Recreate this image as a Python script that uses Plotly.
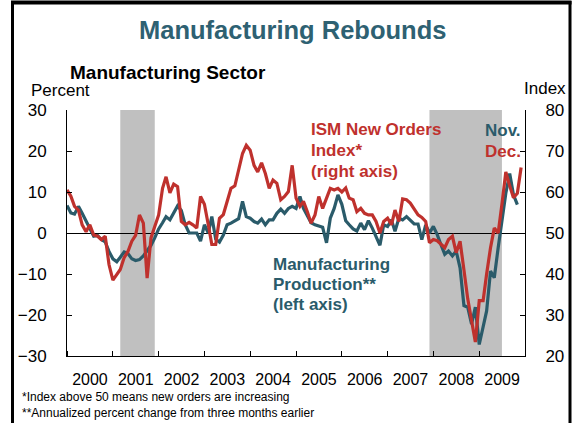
import plotly.graph_objects as go
import pandas as pd

# ---- data ----
start_month = "2000-01-01"
years = ["2000", "2001", "2002", "2003", "2004", "2005", "2006", "2007", "2008", "2009"]

# ISM New Orders Index (right axis), Jan 2000 - Dec 2009
ism_new_orders = [
    60.5, 59.0, 56.5, 55.6, 52.0, 50.3, 52.0, 49.5, 49.2, 48.4, 49.2, 42.3,
    38.5, 39.9, 41.1, 44.0, 45.5, 48.0, 49.4, 54.4, 52.4, 39.0, 48.8, 51.6,
    54.4, 60.9, 63.7, 59.8, 61.9, 61.3, 52.8, 52.0, 52.6, 52.0, 51.2, 58.9,
    57.0, 52.0, 47.2, 47.2, 53.6, 54.5, 57.5, 60.9, 61.5, 65.3, 69.4, 71.4,
    70.2, 66.5, 64.9, 67.1, 64.5, 60.9, 62.9, 62.1, 58.1, 58.9, 60.1, 66.5,
    58.5, 56.5, 57.7, 55.2, 52.4, 54.4, 58.9, 56.0, 58.5, 60.9, 60.5, 60.9,
    60.0, 61.0, 58.5, 58.1, 55.2, 56.0, 54.8, 54.4, 54.4, 52.8, 50.0, 52.8,
    53.6, 52.0, 55.6, 52.8, 58.3, 58.1, 57.3, 56.0, 54.4, 53.8, 52.8, 47.6,
    48.4, 48.1, 47.2, 46.4, 48.4, 49.2, 45.2, 48.0, 41.0, 34.0, 28.6, 23.4,
    33.5, 33.5, 40.0, 46.4, 51.2, 50.0, 57.0, 64.9, 61.5, 58.6, 59.7, 66.0,
]

# Manufacturing production, annualized 3-month % change (left axis), Jan 2000 - Nov 2009
mfg_production = [
    6.7, 4.9, 4.6, 6.5, 4.8, 3.0, 1.0, -0.8, -0.6, -1.6, -2.2, -4.5,
    -6.3, -7.0, -5.9, -4.6, -5.0, -6.3, -6.7, -6.5, -5.6, -4.4, -3.0, -1.2,
    1.0, 2.5, 4.0, 3.2, 4.8, 6.6, 5.5, 2.0, 0.0, 0.0, 0.0, -2.0,
    2.0, 0.0, 4.0, -1.5, -2.2, -0.5, 2.0, 2.4, 3.0, 3.5, 7.7, 4.0,
    3.6, 2.8, 2.4, 3.4, 2.0, 3.2, 3.2, 4.8, 5.8, 4.8, 6.0, 6.5,
    6.0, 8.9, 6.0, 4.4, 2.5, 2.0, 1.8, 1.4, -2.4, 3.6, 6.0, 9.3,
    7.0, 3.0, 2.0, 1.0, 0.5, 2.4, 0.8, 3.0, 1.2, -0.8, -3.0, 2.0,
    1.6, 3.2, 0.4, 3.6, 3.2, 4.0, 3.2, 2.2, 2.2, -1.6, 2.0, 0.0,
    1.6, -0.4, -2.8, -5.2, -4.4, -5.6, -4.4, -8.5, -17.7, -18.1, -22.2, -18.1,
    -27.2, -23.0, -19.0, -9.3, -10.9, -3.6, 3.6, 9.7, 14.5, 9.3, 6.9,
]

recession_starts = ["2001-03-01", "2007-12-01"]
recession_ends = ["2001-12-01", "2009-07-01"]

left_ticks = [-30, -20, -10, 0, 10, 20, 30]
right_ticks = [20, 30, 40, 50, 60, 70, 80]

# ---- styling ----
RED = "#BF312D"
TEAL = "#2A5B6A"
TITLE = "#2E6172"
FONT = "Liberation Sans, Arial, sans-serif"

W, H = 580, 423
L, R, T, B = 67, 55, 110, 67
PW, PH = W - L - R, H - T - B


def px(x):
    return (x - L) / PW


def py(y):
    return (H - B - y) / PH


months_ism = pd.date_range(start_month, periods=len(ism_new_orders), freq="MS")
months_mfg = pd.date_range(start_month, periods=len(mfg_production), freq="MS")

fig = go.Figure()
fig.add_trace(go.Scatter(x=months_mfg, y=mfg_production, mode="lines",
                         line=dict(color=TEAL, width=3.2), yaxis="y", showlegend=False))
fig.add_trace(go.Scatter(x=months_ism, y=ism_new_orders, mode="lines",
                         line=dict(color=RED, width=3.2), yaxis="y2", showlegend=False))

shapes = []
for s, e in zip(recession_starts, recession_ends):
    shapes.append(dict(type="rect", xref="x", yref="paper", x0=s, x1=e, y0=0, y1=1,
                       fillcolor="#C0C0C0", line=dict(width=0), layer="below"))
# outer frame
shapes.append(dict(type="line", xref="paper", yref="paper", x0=px(12.5), x1=px(12.5),
                   y0=py(H + 5), y1=py(1), line=dict(color="black", width=3)))
shapes.append(dict(type="line", xref="paper", yref="paper", x0=px(570), x1=px(570),
                   y0=py(H + 5), y1=py(1), line=dict(color="black", width=3)))
shapes.append(dict(type="line", xref="paper", yref="paper", x0=px(11), x1=px(571.5),
                   y0=py(2.5), y1=py(2.5), line=dict(color="black", width=4)))

ann = []


def text(x, y, s, size, color="black", bold=False, anchor="left"):
    ann.append(dict(x=px(x), y=py(y), xref="paper", yref="paper", text=f"<b>{s}</b>" if bold else s,
                    showarrow=False, xanchor=anchor, yanchor="middle",
                    font=dict(family=FONT, size=size, color=color)))


text(292, 29.5, "Manufacturing Rebounds", 25.5, TITLE, True, "center")
text(68, 72.5, "Manufacturing Sector", 19, "black", True)
text(29, 90.5, "Percent", 17)
text(522, 89, "Index", 17)
text(309, 129, "ISM New Orders", 17, RED, True)
text(309, 150, "Index*", 17, RED, True)
text(309, 171, "(right axis)", 17, RED, True)
text(271, 264, "Manufacturing", 17, TEAL, True)
text(271, 284, "Production**", 17, TEAL, True)
text(271, 304, "(left axis)", 17, TEAL, True)
text(483, 130, "Nov.", 17, TEAL, True)
text(483, 151, "Dec.", 17, RED, True)
text(20, 397, "*Index above 50 means new orders are increasing", 12)
text(20, 413, "**Annualized percent change from three months earlier", 12)

fig.update_layout(
    width=W, height=H,
    margin=dict(l=L, r=R, t=T, b=B, pad=0),
    paper_bgcolor="white", plot_bgcolor="white",
    font=dict(family=FONT, size=17, color="black"),
    shapes=shapes, annotations=ann,
    xaxis=dict(type="date", range=["2000-01-01", "2010-01-01"], dtick="M12", tick0="2000-01-01",
               tickformat="%Y", ticklabelmode="period", ticks="inside", ticklen=5,
               tickcolor="black", tickwidth=1, showline=True, linecolor="black", linewidth=1,
               showgrid=False, zeroline=False, tickfont=dict(size=16), ticklabelstandoff=9),
    yaxis=dict(range=[-30, 30], tickvals=left_ticks, ticks="inside", ticklen=5, tickcolor="black",
               showline=True, linecolor="black", linewidth=1, showgrid=False,
               zeroline=True, zerolinecolor="black", zerolinewidth=1,
               tickfont=dict(size=17), ticklabelstandoff=16),
    yaxis2=dict(range=[20, 80], tickvals=right_ticks, overlaying="y", side="right",
                ticks="inside", ticklen=5, tickcolor="black", showline=True, linecolor="black",
                linewidth=1, showgrid=False, zeroline=False,
                tickfont=dict(size=17), ticklabelstandoff=16),
)

fig.write_html(
    "out.html",
    config={"displayModeBar": False},
    post_script="document.body.style.margin='0px';document.body.style.overflow='hidden';",
)
